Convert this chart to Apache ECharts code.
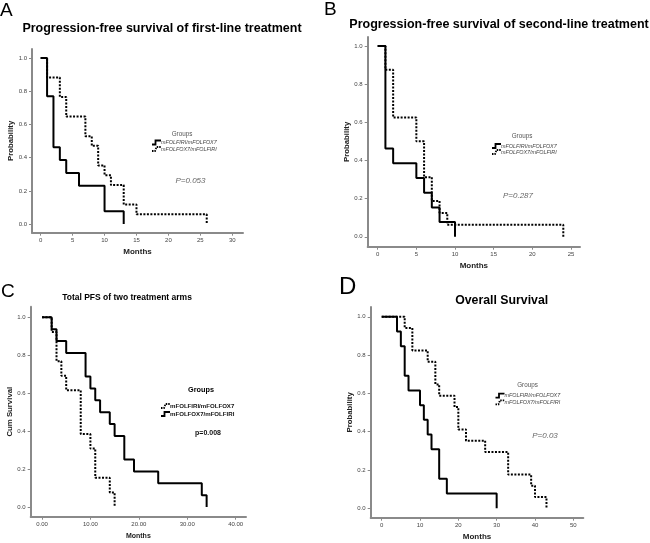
<!DOCTYPE html>
<html><head><meta charset="utf-8">
<script src="https://cdn.jsdelivr.net/npm/echarts@6/dist/echarts.min.js"></script>
<style>html,body{margin:0;padding:0;background:#fff}#c{width:650px;height:543px}</style>
</head><body><div id="c"></div>
<script>
// ---------- data ----------
const groupNames = ['mFOLFIRI/mFOLFOX7', 'mFOLFOX7/mFOLFIRI'];
const probTicks = [0, 0.2, 0.4, 0.6, 0.8, 1.0];
const aTicksX = [0, 5, 10, 15, 20, 25, 30];
const bTicksX = [0, 5, 10, 15, 20, 25];
const cTicksX = [0, 10, 20, 30, 40];
const dTicksX = [0, 10, 20, 30, 40, 50];

// Panel A: PFS first-line
const aSolidT = [0, 1, 2, 3, 4, 6, 10, 13];
const aSolidS = [1, 0.769, 0.462, 0.385, 0.308, 0.231, 0.077, 0];
const aDotT = [0, 1, 3, 4, 7, 8, 9, 10, 11, 13, 15, 26];
const aDotS = [1, 0.882, 0.765, 0.647, 0.529, 0.471, 0.353, 0.294, 0.235, 0.118, 0.059, 0];
// Panel B: PFS second-line
const bSolidT = [0, 1, 2, 5, 6, 7, 8, 10];
const bSolidS = [1, 0.462, 0.385, 0.308, 0.231, 0.154, 0.077, 0];
const bDotT = [0, 1, 2, 5, 6, 7, 8, 9, 24];
const bDotS = [1, 0.875, 0.625, 0.5, 0.3125, 0.1875, 0.125, 0.0625, 0];
// Panel C: total PFS (dotted = mFOLFIRI/mFOLFOX7, solid = mFOLFOX7/mFOLFIRI)
const cDotT = [0, 2, 3, 4, 5, 8, 10, 11, 14, 15];
const cDotS = [1, 0.923, 0.769, 0.692, 0.615, 0.385, 0.308, 0.154, 0.077, 0];
const cSolidT = [0, 2, 3, 5, 9, 10, 11, 12, 14, 15, 17, 19, 24, 33, 34];
const cSolidS = [1, 0.9375, 0.875, 0.8125, 0.6875, 0.625, 0.5625, 0.5, 0.4375, 0.375, 0.25, 0.1875, 0.125, 0.0625, 0];
// Panel D: overall survival
const dSolidT = [0, 4, 5, 6, 7, 10, 11, 12, 13, 15, 17, 30];
const dSolidS = [1, 0.923, 0.846, 0.692, 0.615, 0.538, 0.462, 0.385, 0.308, 0.154, 0.077, 0];
const dDotT = [0, 6, 8, 12, 14, 15, 19, 20, 22, 27, 33, 39, 40, 43];
const dDotS = [1, 0.941, 0.824, 0.765, 0.647, 0.588, 0.529, 0.412, 0.353, 0.294, 0.176, 0.118, 0.059, 0];

const titles = ['Progression-free survival of first-line treatment', 'Progression-free survival of second-line treatment', 'Total PFS of two treatment arms', 'Overall Survival'];
const letters = ['A', 'B', 'C', 'D'];
const pValues = ['P=0.053', 'P=0.287', 'p=0.008', 'P=0.03'];

// ---------- layout ----------
const FF = '"Liberation Sans", Arial, sans-serif';
const zip = (t, s) => t.map((v, i) => [v, s[i]]);
const AX = '#8a8a8a';

const grids = [
  {left: 32, top: 49, width: 211, height: 183.7, xmin: -1.36, xmax: 31.68, ymin: -0.052, ymax: 1.054},
  {left: 367.7, top: 37, width: 212.3, height: 209.7, xmin: -1.29, xmax: 26.16, ymin: -0.052, ymax: 1.047},
  {left: 30.7, top: 306.7, width: 215.3, height: 210, xmin: -2.33, xmax: 42.13, ymin: -0.051, ymax: 1.056},
  {left: 370.7, top: 307, width: 212.6, height: 210.7, xmin: -2.87, xmax: 52.61, ymin: -0.049, ymax: 1.051}
];
const xTicks = [aTicksX, bTicksX, cTicksX, dTicksX];
const yNames = ['Probability', 'Probability', 'Cum Survival', 'Probability'];
const nameSizes = [8, 8, 7, 8];

const option = {
  animation: false,
  backgroundColor: '#fff',
  grid: grids.map(g => ({left: g.left, top: g.top, width: g.width, height: g.height, containLabel: false})),
  xAxis: grids.map((g, i) => ({
    type: 'value', gridIndex: i, min: g.xmin, max: g.xmax,
    name: 'Months', nameLocation: 'middle', nameGap: i === 2 ? 16 : 15,
    nameTextStyle: {fontFamily: FF, fontWeight: 'bold', fontSize: nameSizes[i], color: '#222'},
    axisLine: {onZero: false, lineStyle: {color: AX, width: 2}},
    axisTick: {show: true, length: 3, lineStyle: {color: AX, width: 1}, customValues: xTicks[i]},
    axisLabel: {fontFamily: FF, fontSize: 6, color: '#444', margin: 5, customValues: xTicks[i],
      formatter: v => i === 2 ? v.toFixed(2) : String(v)},
    splitLine: {show: false}
  })),
  yAxis: grids.map((g, i) => ({
    type: 'value', gridIndex: i, min: g.ymin, max: g.ymax,
    name: yNames[i], nameLocation: 'middle', nameGap: 14,
    nameTextStyle: {fontFamily: FF, fontWeight: 'bold', fontSize: i === 2 ? 7.8 : 7.8, color: '#222'},
    axisLine: {onZero: false, lineStyle: {color: AX, width: 2}},
    axisTick: {show: true, length: 3, lineStyle: {color: AX, width: 1}, customValues: probTicks},
    axisLabel: {fontFamily: FF, fontSize: 6, color: '#444', margin: 5, customValues: probTicks,
      formatter: v => v.toFixed(1)},
    splitLine: {show: false}
  })),
  series: []
};

const solidStyle = {color: '#000', width: 2, type: 'solid'};
const dotStyle = {color: '#000', width: 2, type: [2, 1.5]};
function addSeries(idx, name, t, s, style) {
  option.series.push({
    type: 'line', name: name, xAxisIndex: idx, yAxisIndex: idx, step: 'end',
    showSymbol: false, symbol: 'none', data: zip(t, s), lineStyle: style, silent: true
  });
}
addSeries(0, groupNames[0], aSolidT, aSolidS, solidStyle);
addSeries(0, groupNames[1], aDotT, aDotS, dotStyle);
addSeries(1, groupNames[0], bSolidT, bSolidS, solidStyle);
addSeries(1, groupNames[1], bDotT, bDotS, dotStyle);
addSeries(2, groupNames[0], cDotT, cDotS, dotStyle);
addSeries(2, groupNames[1], cSolidT, cSolidS, solidStyle);
addSeries(3, groupNames[0], dSolidT, dSolidS, solidStyle);
addSeries(3, groupNames[1], dDotT, dDotS, dotStyle);

// ---------- text & legends ----------
const g = [];
function txt(text, x, y, font, fill, align) {
  g.push({type: 'text', x: x, y: y, silent: true,
    style: {text: text, font: font, fill: fill, align: align || 'center', verticalAlign: 'middle'}});
}
// letters
txt(letters[0], 0, 10.5, 'normal 19px ' + FF, '#000', 'left');
txt(letters[1], 324, 10, 'normal 19px ' + FF, '#000', 'left');
txt(letters[2], 1, 291.5, 'normal 19px ' + FF, '#000', 'left');
txt(letters[3], 339, 287.5, 'normal 24px ' + FF, '#000', 'left');
// titles
txt(titles[0], 162, 29, 'bold 12.5px ' + FF, '#000');
txt(titles[1], 499, 25, 'bold 12.5px ' + FF, '#000');
txt(titles[2], 127, 298, 'bold 8.5px ' + FF, '#000');
txt(titles[3], 501.7, 300.7, 'bold 12.3px ' + FF, '#000');

function legend(gx, gy, sx, y1, y2, solidFirst, bold) {
  txt('Groups', gx, gy, (bold ? 'bold 7.3px ' : 'normal 6.3px ') + FF, bold ? '#000' : '#555');
  const items = [[y1, solidFirst, groupNames[0]], [y2, !solidFirst, groupNames[1]]];
  items.forEach(([y, solid, name]) => {
    const pts = solid ? [[sx, y + 2], [sx + 3.5, y + 2], [sx + 3.5, y - 2], [sx + 9, y - 2]]
                      : [[sx, y + 2], [sx + 3, y + 2], [sx + 4.5, y - 2], [sx + 9, y - 2]];
    g.push({type: 'polyline', silent: true, shape: {points: pts},
      style: {stroke: '#000', lineWidth: 1.8, fill: null, lineDash: solid ? null : [1.5, 1]}});
    txt(name, sx + 9, y, (bold ? 'bold 6.1px ' : 'italic 5.4px ') + FF, bold ? '#111' : '#444', 'left');
  });
}
legend(182, 134, 152, 142.5, 149, true, false);
legend(522, 136, 492, 146, 152, true, false);
legend(201, 390, 161, 406, 414, false, true);
legend(527.5, 385.7, 495.5, 395.7, 402.3, true, false);

txt(pValues[0], 190.5, 181, 'italic 8px ' + FF, '#666');
txt(pValues[1], 518, 196, 'italic 8px ' + FF, '#666');
txt(pValues[2], 208, 433, 'bold 7px ' + FF, '#111');
txt(pValues[3], 545, 435.7, 'italic 8px ' + FF, '#666');

option.graphic = {elements: g};

const chart = echarts.init(document.getElementById('c'), null, {renderer: 'canvas'});
chart.setOption(option);
</script></body></html>
